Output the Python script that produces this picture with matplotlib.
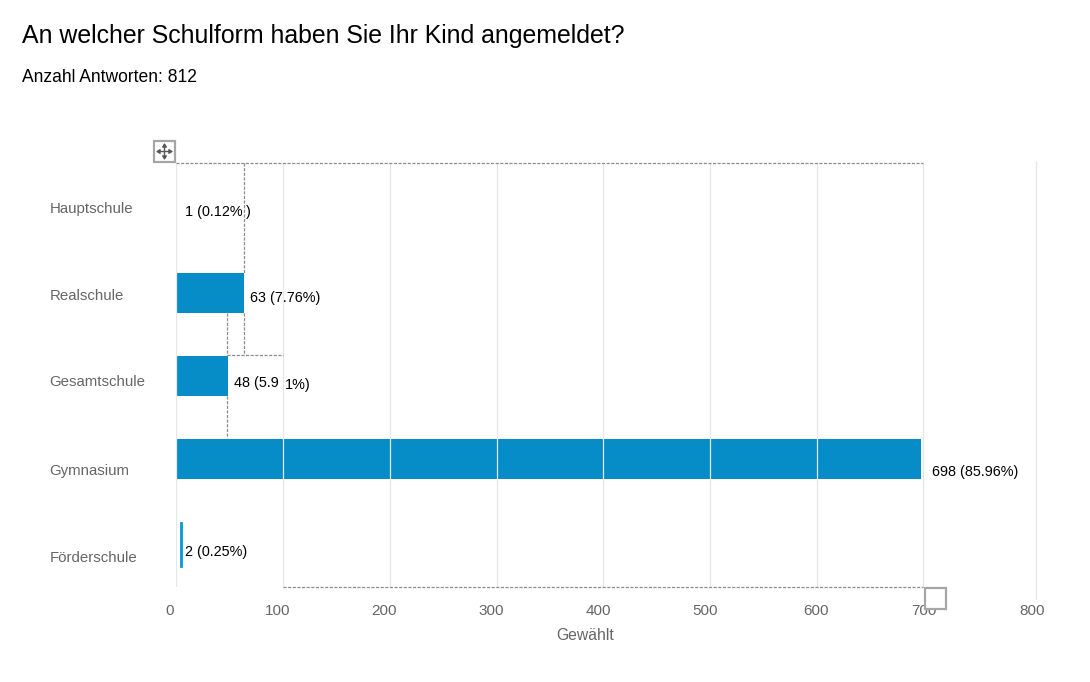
import matplotlib
matplotlib.use('Agg')
import matplotlib.pyplot as plt
from matplotlib.patches import Rectangle

plt.rcParams['font.family'] = ['Liberation Sans', 'DejaVu Sans']

# Daten
schulformen = ['Hauptschule', 'Realschule', 'Gesamtschule', 'Gymnasium', 'Förderschule']
antworten = [1, 63, 48, 698, 2]
bar_labels = ['1 (0.12%', '63 (7.76%)', '48 (5.9', '698 (85.96%)', '2 (0.25%)']
tick_labels = ['0', '100', '200', '300', '400', '500', '600', '700', '800']

BLAU = '#068dc7'
GRAU = '#666666'
GITTER = '#e6e6e6'
STRICH = '#8c8c8c'

fig = plt.figure(figsize=(10.9, 6.82), dpi=100)

# Diagramm, Pixel fuer Pixel auf die Vorlage gelegt
px_per_unit = 1.067
left, right, top, bottom = 176.4, 1035, 163, 587
ax = fig.add_axes([left / 1090, 1 - bottom / 682, (right - left) / 1090, (bottom - top) / 682])
ax.set_xlim(0, (right - left) / px_per_unit)
ax.set_ylim((bottom - 210) / 83, (top - 210) / 83)
ax.axis('off')

# Gitterlinien liegen ueber den Balken
grid_pos = [0, 100, 200, 300, 400, 500, 600, 700]
for g in grid_pos:
    ax.axvline(g, color=GITTER, lw=0.9, zorder=3)

# Hauptschule hat in der Vorlage keinen sichtbaren Balken
for i in [1, 2, 3]:
    ax.barh(i, antworten[i], height=40 / 83, color=BLAU, zorder=2)
ax.barh(4 + 2.5 / 83, antworten[4], left=3.4, height=45 / 83, color='#0a9ad6',
        edgecolor='#0a9ad6', lw=0.6, zorder=2)

# Overlay in Pixelkoordinaten fuer Texte und Auswahlrahmen
ov = fig.add_axes([0, 0, 1, 1], facecolor='none')
ov.set_xlim(0, 1090)
ov.set_ylim(682, 0)
ov.axis('off')

ov.plot([1035.5, 1035.5], [162, 599], color=GITTER, lw=0.9, zorder=1)

ov.text(22, 35.5, 'An welcher Schulform haben Sie Ihr Kind angemeldet?', fontsize=17.9,
        color='black', va='center', ha='left')
ov.text(22, 77.5, 'Anzahl Antworten: 812', fontsize=12.65, color='black', va='center', ha='left')

label_y = [208.5, 295.5, 382.5, 470.5, 557.5]
for name, y in zip(schulformen, label_y):
    ov.text(49.5, y, name, fontsize=10.8, color=GRAU, va='center', ha='left')

val_x = [185, 250, 234, 932, 185]
val_y = [212, 298, 383, 472, 552]
for txt, x, y in zip(bar_labels, val_x, val_y):
    ov.text(x, y, txt, fontsize=10.4, color='black', va='center', ha='left', zorder=6)
ov.text(246, 212, ')', fontsize=10.4, color='black', va='center', ha='left', zorder=6)
ov.text(285, 385, '1%)', fontsize=10.4, color='black', va='center', ha='left', zorder=6)

tick_x = [170, 277.5, 384, 491, 598, 705, 816, 924, 1032]
for txt, x in zip(tick_labels, tick_x):
    ov.text(x, 611, txt, fontsize=11, color=GRAU, va='center', ha='center')
ov.text(585, 636, 'Gewählt', fontsize=11.3, color=GRAU, va='center', ha='center')

# gestrichelte Hilfslinien
dashes = [
    ([176, 923], [163, 163]),
    ([244, 244], [163, 273]),
    ([244, 244], [313, 355]),
    ([227, 227], [313, 356]),
    ([227, 227], [396, 438]),
    ([227, 283], [355, 355]),
    ([283, 923], [586.5, 586.5]),
]
for xs, ys in dashes:
    ov.plot(xs, ys, color=STRICH, lw=0.9, ls=(0, (2.5, 1.2)), zorder=5)

# Griffe
ov.add_patch(Rectangle((154, 141), 21, 21, fc='white', ec='#a6a6a6', lw=1.6, zorder=7))
ov.add_patch(Rectangle((925, 588), 21, 21, fc='white', ec='#a6a6a6', lw=1.6, zorder=7))
pfeil = dict(arrowstyle='<|-|>,head_width=0.13,head_length=0.2', color='#555555', lw=1.0,
             shrinkA=0, shrinkB=0, mutation_scale=10)
ov.annotate('', xy=(156, 151.5), xytext=(173, 151.5), arrowprops=pfeil, zorder=8)
ov.annotate('', xy=(164.5, 143), xytext=(164.5, 160), arrowprops=pfeil, zorder=8)

fig.savefig('out.png', dpi=100)
